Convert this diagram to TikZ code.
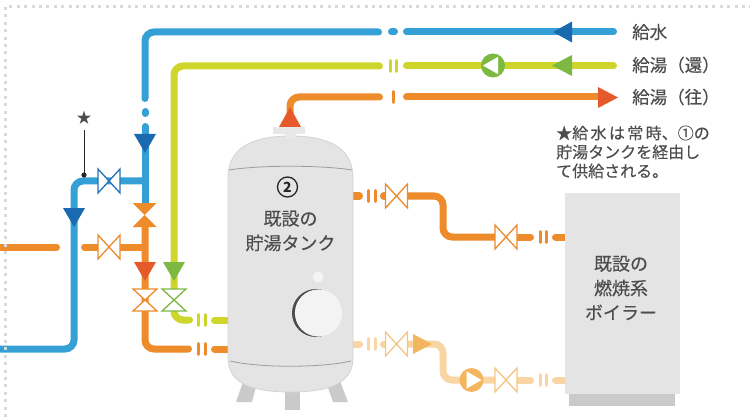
\documentclass[tikz,border=0pt]{standalone}
\usepackage{fontspec}
\setmainfont{Noto Sans CJK JP}
\newfontfamily\medfont[FakeBold=0.35]{Noto Sans CJK JP}
\definecolor{pblue}{HTML}{34A0D6}
\definecolor{dblue}{HTML}{1A69B1}
\definecolor{vblue}{HTML}{2473BA}
\definecolor{pgreen}{HTML}{CED62B}
\definecolor{dgreen}{HTML}{7DB843}
\definecolor{porange}{HTML}{EE8B2A}
\definecolor{rorange}{HTML}{E5592B}
\definecolor{lorange}{HTML}{F9D5A3}
\definecolor{morange}{HTML}{F4B55F}
\definecolor{vlorange}{HTML}{F6C583}
\definecolor{tankgray}{HTML}{E4E4E4}
\definecolor{tankedge}{HTML}{D3D3D3}
\definecolor{leggray}{HTML}{CACACA}
\definecolor{seam}{HTML}{9C9C9C}
\definecolor{ctext}{HTML}{4D4D4D}
\definecolor{border}{HTML}{DADADA}
\begin{document}
\begin{tikzpicture}[x=1pt,y=-1pt,
  pipe/.style={line width=7pt, line cap=round, rounded corners=9pt},
  bar/.style={line width=3pt, line cap=round},
  pics/valve/.style={code={
    \draw[line width=1.3pt, fill=white, line join=miter]
      (-11,-12) -- (-11,12) -- (11,-12) -- (11,12) -- cycle;}},
  pics/solidvalve/.style={code={
    \fill (-12,-12) -- (-12,12) -- (12,-12) -- (12,12) -- cycle;}},
  pics/pump/.style={code={
    \fill (0,0) circle (12);
    \fill[white] (180:10) -- (60:10) -- (-60:10) -- cycle;}},
  label/.style={font=\medfont\fontsize{17.5}{20}\selectfont, text=ctext, anchor=west, inner sep=0pt},
  unittext/.style={font=\medfont\fontsize{18}{24.5}\selectfont, text=ctext, align=center, inner sep=0pt},
  notetext/.style={font=\medfont\fontsize{16}{19}\selectfont, text=ctext, anchor=west, inner sep=0pt}
]
\useasboundingbox (0,0) rectangle (750,417);
\begin{scope}
\clip (0,0) rectangle (750,417);

% ---------- cold water supply (blue) ----------
\draw[pipe, pblue] (145,98.5) -- (145,32) -- (378.5,32);
\draw[pipe, pblue] (391.5,32) -- (394.5,32);
\draw[pipe, pblue] (406.5,32) -- (613.5,32);
\draw[pipe, pblue] (145,111.5) -- (145,113.5);
\draw[pipe, pblue] (145,126.5) -- (145,206);
\draw[pipe, pblue] (145,181) -- (74,181) -- (74,349) -- (-6,349);
\fill[dblue] (134,134) -- (156,134) -- (145,153) -- cycle;
\fill[dblue] (63,208) -- (85,208) -- (74,227) -- cycle;
\fill[dblue] (572,21.5) -- (572,42.5) -- (553,32) -- cycle;
\pic[color=vblue] at (109,181) {valve};

% callout for the note
\node[text=ctext, font=\fontsize{15}{15}\selectfont, inner sep=0pt] (star) at (84,118) {★};
\coordinate (tap) at (84,175);
\draw[line width=1pt, black!85] (84,130) -- (tap);
\fill[black!85] (tap) circle (2.6);

% ---------- hot water return (green) ----------
\draw[pipe, pgreen] (174,290) -- (174,66) -- (379.5,66);
\draw[bar, pgreen] (390.5,60.5) -- (390.5,71.5);
\draw[bar, pgreen] (396.5,60.5) -- (396.5,71.5);
\draw[pipe, pgreen] (406.5,66) -- (613.5,66);
\pic[color=dgreen] at (493,65.5) {pump};
\fill[dgreen] (572,55) -- (572,76) -- (552,65.5) -- cycle;
\draw[pipe, pgreen] (174,310) -- (174,320) -- (189.5,320);
\draw[bar, pgreen] (198.5,314.5) -- (198.5,325.5);
\draw[bar, pgreen] (205,314.5) -- (205,325.5);
\draw[pipe, pgreen] (214.5,320) -- (236,320);
\fill[dgreen] (163,262) -- (185,262) -- (174,281) -- cycle;
\pic[color=dgreen, rotate=90] at (174,300) {valve};

% ---------- hot water supply (orange), left side ----------
\draw[pipe, porange] (145,226) -- (145,349) -- (188.5,349);
\draw[bar, porange] (198.5,343.5) -- (198.5,354.5);
\draw[bar, porange] (205,343.5) -- (205,354.5);
\draw[pipe, porange] (214.5,349) -- (236,349);
\draw[pipe, porange] (145,247) -- (120,247);
\draw[pipe, porange] (98,247) -- (84.5,247);
\draw[pipe, porange] (-6,247) -- (56.5,247);
\pic[color=porange] at (109,247) {valve};
\pic[color=porange, rotate=90] at (144.5,215) {solidvalve};
\fill[rorange] (134,262) -- (156,262) -- (145,281) -- cycle;
\pic[color=porange, rotate=90] at (145,300) {valve};

% ---------- hot water supply (orange), top line ----------
\draw[pipe, porange] (290,128) -- (290,97) -- (379.5,97);
\draw[bar, porange] (393,91.5) -- (393,102.5);
\draw[pipe, porange] (406.5,97) -- (602,97);
\fill[rorange] (598,87) -- (618,97.5) -- (598,108) -- cycle;

% ---------- tank to boiler, upper (orange) ----------
\draw[pipe, porange] (348,196) -- (359.5,196);
\draw[bar, porange] (368.5,190.5) -- (368.5,201.5);
\draw[bar, porange] (375,190.5) -- (375,201.5);
\draw[pipe, porange] (383.5,196) -- (387,196);
\draw[pipe, porange] (406,196) -- (443,196) -- (443,237) -- (496,237);
\draw[pipe, porange] (516,237) -- (530.5,237);
\draw[bar, porange] (540,231.5) -- (540,242.5);
\draw[bar, porange] (546.5,231.5) -- (546.5,242.5);
\draw[pipe, porange] (555.5,237) -- (570,237);
\pic[color=porange] at (396.5,196) {valve};
\pic[color=porange] at (506,237) {valve};

% ---------- tank to boiler, lower (light orange) ----------
\draw[pipe, lorange] (348,344) -- (359.5,344);
\draw[bar, lorange] (368.5,338.5) -- (368.5,349.5);
\draw[bar, lorange] (375,338.5) -- (375,349.5);
\draw[pipe, lorange] (383.5,344) -- (387,344);
\draw[pipe, lorange] (406,344) -- (443,344) -- (443,380) -- (496,380);
\draw[pipe, lorange] (516,380) -- (530.5,380);
\draw[bar, lorange] (540,374.5) -- (540,385.5);
\draw[bar, lorange] (546.5,374.5) -- (546.5,385.5);
\draw[pipe, lorange] (555.5,380) -- (570,380);
\pic[color=vlorange] at (396.5,344) {valve};
\pic[color=vlorange] at (506,380) {valve};
\fill[morange] (413,334) -- (432,344) -- (413,354) -- cycle;
\pic[color=morange, rotate=180] at (471.5,380) {pump};

% ---------- existing storage tank ----------
\fill[leggray] (245,376) -- (259,376) -- (252,402) -- (236,402) -- cycle;
\fill[leggray] (285,380) -- (300,380) -- (300,410) -- (285,410) -- cycle;
\fill[leggray] (324,376) -- (338,376) -- (348,402) -- (333,402) -- cycle;
\draw[tankedge, line width=0.8pt, fill=tankgray]
  (228,178) .. controls (228,146) and (255,136) .. (290.5,136)
  .. controls (326,136) and (353,146) .. (353,178)
  -- (353,358) .. controls (353,384) and (328,392) .. (290.5,392)
  .. controls (253,392) and (228,384) .. (228,358) -- cycle;
\fill[tankgray!85!white] (273,127) rectangle (305,134);
\fill[tankgray!85!white] (285,134) rectangle (296,139);
\fill[rorange] (290,107) -- (301,127) -- (279,127) -- cycle;
\draw[seam, line width=0.8pt] (229,170) .. controls (260,165) and (321,165) .. (352,170);
\draw[seam, line width=0.8pt] (230,361) .. controls (260,368) and (321,368) .. (351,361);
\fill[tankgray!40!white] (318,277) circle (5.5);
\fill[black!70] (316,313) circle (24);
\fill[tankgray!45!white] (318.5,313) circle (23.6);
\node[circle, draw=black!85, line width=1.3pt, minimum size=20pt, inner sep=0pt,
      font=\fontsize{14}{14}\selectfont\bfseries, text=black!85] (tanknum) at (287.5,187) {2};
\node[unittext] (tankname) at (290.5,231) {既設の\\貯湯タンク};

% ---------- existing boiler ----------
\fill[leggray] (569,393) rectangle (675,406);
\fill[tankgray] (565,193) rectangle (680,394);
\node[unittext] (boilername) at (621,288) {既設の\\燃焼系\\ボイラー};

% ---------- legend and note ----------
\node[label] (lcold) at (632,32) {給水};
\node[label] (lret) at (632,65) {給湯（還）};
\node[label] (lsup) at (632,97) {給湯（往）};
\node[notetext] (note1) at (556,133) {\makebox[151pt][s]{★給 水 は 常 時、①の}};
\node[notetext] (note2) at (556,152) {貯湯タンクを経由し};
\node[notetext] (note3) at (556,171) {て供給される。};

% ---------- dotted frame ----------
\draw[border, line width=3pt, dash pattern=on 3pt off 4.4pt] (5,417) -- (5,7) -- (752,7);
\end{scope}
\end{tikzpicture}
\end{document}
